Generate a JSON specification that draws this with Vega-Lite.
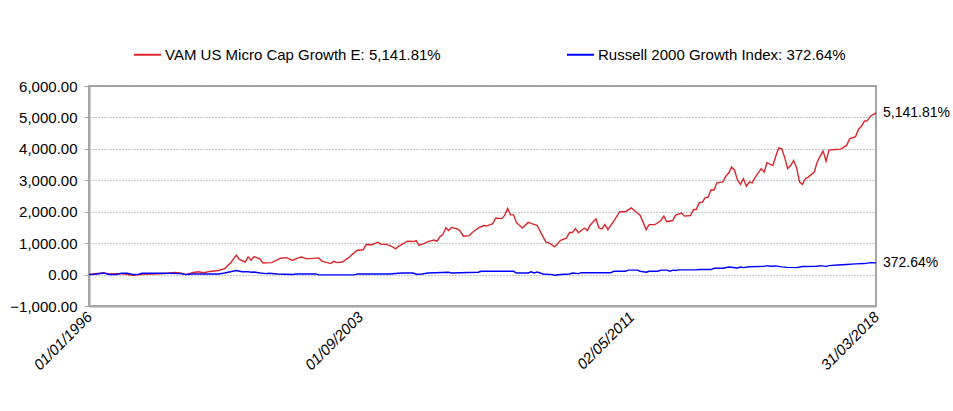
{
  "$schema": "https://vega.github.io/schema/vega-lite/v6.json",
  "width": 787,
  "height": 220,
  "autosize": {"type": "none"},
  "padding": {"left": 89, "top": 86, "right": 77, "bottom": 105},
  "background": "white",
  "config": {"view": {"stroke": "#a6a6a6", "strokeWidth": 2}, "font": "Liberation Sans"},
  "datasets": {
    "perf": [
      {"series": "VAM US Micro Cap Growth E: 5,141.81%", "date": "1996-01-01", "value": 0},
      {"series": "VAM US Micro Cap Growth E: 5,141.81%", "date": "1996-03-01", "value": 30},
      {"series": "VAM US Micro Cap Growth E: 5,141.81%", "date": "1996-06-01", "value": 50},
      {"series": "VAM US Micro Cap Growth E: 5,141.81%", "date": "1996-08-01", "value": 20},
      {"series": "VAM US Micro Cap Growth E: 5,141.81%", "date": "1996-11-01", "value": 30},
      {"series": "VAM US Micro Cap Growth E: 5,141.81%", "date": "1997-01-01", "value": 20},
      {"series": "VAM US Micro Cap Growth E: 5,141.81%", "date": "1997-04-01", "value": -20},
      {"series": "VAM US Micro Cap Growth E: 5,141.81%", "date": "1997-07-01", "value": 10},
      {"series": "VAM US Micro Cap Growth E: 5,141.81%", "date": "1997-11-01", "value": 20},
      {"series": "VAM US Micro Cap Growth E: 5,141.81%", "date": "1998-04-01", "value": 40},
      {"series": "VAM US Micro Cap Growth E: 5,141.81%", "date": "1998-06-01", "value": 70},
      {"series": "VAM US Micro Cap Growth E: 5,141.81%", "date": "1998-08-01", "value": 50},
      {"series": "VAM US Micro Cap Growth E: 5,141.81%", "date": "1998-10-01", "value": 0},
      {"series": "VAM US Micro Cap Growth E: 5,141.81%", "date": "1998-12-01", "value": 60},
      {"series": "VAM US Micro Cap Growth E: 5,141.81%", "date": "1999-02-01", "value": 90},
      {"series": "VAM US Micro Cap Growth E: 5,141.81%", "date": "1999-04-01", "value": 60},
      {"series": "VAM US Micro Cap Growth E: 5,141.81%", "date": "1999-06-01", "value": 100},
      {"series": "VAM US Micro Cap Growth E: 5,141.81%", "date": "1999-09-01", "value": 130},
      {"series": "VAM US Micro Cap Growth E: 5,141.81%", "date": "1999-11-01", "value": 190},
      {"series": "VAM US Micro Cap Growth E: 5,141.81%", "date": "2000-01-01", "value": 370},
      {"series": "VAM US Micro Cap Growth E: 5,141.81%", "date": "2000-03-01", "value": 620},
      {"series": "VAM US Micro Cap Growth E: 5,141.81%", "date": "2000-04-01", "value": 480},
      {"series": "VAM US Micro Cap Growth E: 5,141.81%", "date": "2000-06-01", "value": 400},
      {"series": "VAM US Micro Cap Growth E: 5,141.81%", "date": "2000-07-01", "value": 560},
      {"series": "VAM US Micro Cap Growth E: 5,141.81%", "date": "2000-08-01", "value": 460},
      {"series": "VAM US Micro Cap Growth E: 5,141.81%", "date": "2000-09-01", "value": 570},
      {"series": "VAM US Micro Cap Growth E: 5,141.81%", "date": "2000-11-01", "value": 490},
      {"series": "VAM US Micro Cap Growth E: 5,141.81%", "date": "2000-12-01", "value": 370},
      {"series": "VAM US Micro Cap Growth E: 5,141.81%", "date": "2001-03-01", "value": 380},
      {"series": "VAM US Micro Cap Growth E: 5,141.81%", "date": "2001-06-01", "value": 520},
      {"series": "VAM US Micro Cap Growth E: 5,141.81%", "date": "2001-08-01", "value": 540},
      {"series": "VAM US Micro Cap Growth E: 5,141.81%", "date": "2001-10-01", "value": 450},
      {"series": "VAM US Micro Cap Growth E: 5,141.81%", "date": "2001-12-01", "value": 530},
      {"series": "VAM US Micro Cap Growth E: 5,141.81%", "date": "2002-01-01", "value": 560},
      {"series": "VAM US Micro Cap Growth E: 5,141.81%", "date": "2002-03-01", "value": 500},
      {"series": "VAM US Micro Cap Growth E: 5,141.81%", "date": "2002-07-01", "value": 530},
      {"series": "VAM US Micro Cap Growth E: 5,141.81%", "date": "2002-08-01", "value": 430},
      {"series": "VAM US Micro Cap Growth E: 5,141.81%", "date": "2002-11-01", "value": 350},
      {"series": "VAM US Micro Cap Growth E: 5,141.81%", "date": "2002-12-01", "value": 420},
      {"series": "VAM US Micro Cap Growth E: 5,141.81%", "date": "2003-01-01", "value": 380},
      {"series": "VAM US Micro Cap Growth E: 5,141.81%", "date": "2003-03-01", "value": 400},
      {"series": "VAM US Micro Cap Growth E: 5,141.81%", "date": "2003-05-01", "value": 530},
      {"series": "VAM US Micro Cap Growth E: 5,141.81%", "date": "2003-08-01", "value": 775},
      {"series": "VAM US Micro Cap Growth E: 5,141.81%", "date": "2003-10-01", "value": 790},
      {"series": "VAM US Micro Cap Growth E: 5,141.81%", "date": "2003-11-01", "value": 955},
      {"series": "VAM US Micro Cap Growth E: 5,141.81%", "date": "2004-01-01", "value": 950},
      {"series": "VAM US Micro Cap Growth E: 5,141.81%", "date": "2004-03-01", "value": 1030},
      {"series": "VAM US Micro Cap Growth E: 5,141.81%", "date": "2004-04-01", "value": 960},
      {"series": "VAM US Micro Cap Growth E: 5,141.81%", "date": "2004-06-01", "value": 960},
      {"series": "VAM US Micro Cap Growth E: 5,141.81%", "date": "2004-08-01", "value": 880},
      {"series": "VAM US Micro Cap Growth E: 5,141.81%", "date": "2004-09-01", "value": 820},
      {"series": "VAM US Micro Cap Growth E: 5,141.81%", "date": "2004-10-01", "value": 900},
      {"series": "VAM US Micro Cap Growth E: 5,141.81%", "date": "2005-01-01", "value": 1060},
      {"series": "VAM US Micro Cap Growth E: 5,141.81%", "date": "2005-03-01", "value": 1050},
      {"series": "VAM US Micro Cap Growth E: 5,141.81%", "date": "2005-04-01", "value": 1080},
      {"series": "VAM US Micro Cap Growth E: 5,141.81%", "date": "2005-05-01", "value": 930},
      {"series": "VAM US Micro Cap Growth E: 5,141.81%", "date": "2005-07-01", "value": 1000},
      {"series": "VAM US Micro Cap Growth E: 5,141.81%", "date": "2005-08-01", "value": 1050},
      {"series": "VAM US Micro Cap Growth E: 5,141.81%", "date": "2005-10-01", "value": 1100},
      {"series": "VAM US Micro Cap Growth E: 5,141.81%", "date": "2005-11-01", "value": 1060},
      {"series": "VAM US Micro Cap Growth E: 5,141.81%", "date": "2005-12-01", "value": 1200},
      {"series": "VAM US Micro Cap Growth E: 5,141.81%", "date": "2006-01-01", "value": 1270},
      {"series": "VAM US Micro Cap Growth E: 5,141.81%", "date": "2006-02-01", "value": 1490},
      {"series": "VAM US Micro Cap Growth E: 5,141.81%", "date": "2006-03-01", "value": 1400},
      {"series": "VAM US Micro Cap Growth E: 5,141.81%", "date": "2006-04-01", "value": 1500},
      {"series": "VAM US Micro Cap Growth E: 5,141.81%", "date": "2006-06-01", "value": 1450},
      {"series": "VAM US Micro Cap Growth E: 5,141.81%", "date": "2006-07-01", "value": 1380},
      {"series": "VAM US Micro Cap Growth E: 5,141.81%", "date": "2006-08-01", "value": 1220},
      {"series": "VAM US Micro Cap Growth E: 5,141.81%", "date": "2006-10-01", "value": 1240},
      {"series": "VAM US Micro Cap Growth E: 5,141.81%", "date": "2006-11-01", "value": 1340},
      {"series": "VAM US Micro Cap Growth E: 5,141.81%", "date": "2007-01-01", "value": 1480},
      {"series": "VAM US Micro Cap Growth E: 5,141.81%", "date": "2007-03-01", "value": 1560},
      {"series": "VAM US Micro Cap Growth E: 5,141.81%", "date": "2007-04-01", "value": 1550},
      {"series": "VAM US Micro Cap Growth E: 5,141.81%", "date": "2007-06-01", "value": 1620},
      {"series": "VAM US Micro Cap Growth E: 5,141.81%", "date": "2007-07-01", "value": 1800},
      {"series": "VAM US Micro Cap Growth E: 5,141.81%", "date": "2007-09-01", "value": 1780},
      {"series": "VAM US Micro Cap Growth E: 5,141.81%", "date": "2007-10-01", "value": 1880},
      {"series": "VAM US Micro Cap Growth E: 5,141.81%", "date": "2007-11-01", "value": 2100},
      {"series": "VAM US Micro Cap Growth E: 5,141.81%", "date": "2007-12-01", "value": 1900},
      {"series": "VAM US Micro Cap Growth E: 5,141.81%", "date": "2008-01-01", "value": 1900},
      {"series": "VAM US Micro Cap Growth E: 5,141.81%", "date": "2008-02-01", "value": 1650},
      {"series": "VAM US Micro Cap Growth E: 5,141.81%", "date": "2008-04-01", "value": 1480},
      {"series": "VAM US Micro Cap Growth E: 5,141.81%", "date": "2008-06-01", "value": 1660},
      {"series": "VAM US Micro Cap Growth E: 5,141.81%", "date": "2008-07-01", "value": 1630},
      {"series": "VAM US Micro Cap Growth E: 5,141.81%", "date": "2008-09-01", "value": 1560},
      {"series": "VAM US Micro Cap Growth E: 5,141.81%", "date": "2008-11-01", "value": 1200},
      {"series": "VAM US Micro Cap Growth E: 5,141.81%", "date": "2008-12-01", "value": 1030},
      {"series": "VAM US Micro Cap Growth E: 5,141.81%", "date": "2009-01-01", "value": 1010},
      {"series": "VAM US Micro Cap Growth E: 5,141.81%", "date": "2009-03-01", "value": 880},
      {"series": "VAM US Micro Cap Growth E: 5,141.81%", "date": "2009-05-01", "value": 1090},
      {"series": "VAM US Micro Cap Growth E: 5,141.81%", "date": "2009-07-01", "value": 1160},
      {"series": "VAM US Micro Cap Growth E: 5,141.81%", "date": "2009-08-01", "value": 1340},
      {"series": "VAM US Micro Cap Growth E: 5,141.81%", "date": "2009-09-01", "value": 1340},
      {"series": "VAM US Micro Cap Growth E: 5,141.81%", "date": "2009-10-01", "value": 1460},
      {"series": "VAM US Micro Cap Growth E: 5,141.81%", "date": "2009-11-01", "value": 1330},
      {"series": "VAM US Micro Cap Growth E: 5,141.81%", "date": "2010-01-01", "value": 1480},
      {"series": "VAM US Micro Cap Growth E: 5,141.81%", "date": "2010-02-01", "value": 1400},
      {"series": "VAM US Micro Cap Growth E: 5,141.81%", "date": "2010-03-01", "value": 1570},
      {"series": "VAM US Micro Cap Growth E: 5,141.81%", "date": "2010-05-01", "value": 1770},
      {"series": "VAM US Micro Cap Growth E: 5,141.81%", "date": "2010-06-01", "value": 1480},
      {"series": "VAM US Micro Cap Growth E: 5,141.81%", "date": "2010-07-01", "value": 1450},
      {"series": "VAM US Micro Cap Growth E: 5,141.81%", "date": "2010-08-01", "value": 1590},
      {"series": "VAM US Micro Cap Growth E: 5,141.81%", "date": "2010-09-01", "value": 1430},
      {"series": "VAM US Micro Cap Growth E: 5,141.81%", "date": "2010-11-01", "value": 1700},
      {"series": "VAM US Micro Cap Growth E: 5,141.81%", "date": "2011-01-01", "value": 2000},
      {"series": "VAM US Micro Cap Growth E: 5,141.81%", "date": "2011-03-01", "value": 2000},
      {"series": "VAM US Micro Cap Growth E: 5,141.81%", "date": "2011-05-01", "value": 2120},
      {"series": "VAM US Micro Cap Growth E: 5,141.81%", "date": "2011-07-01", "value": 1960},
      {"series": "VAM US Micro Cap Growth E: 5,141.81%", "date": "2011-08-01", "value": 1880},
      {"series": "VAM US Micro Cap Growth E: 5,141.81%", "date": "2011-10-01", "value": 1430},
      {"series": "VAM US Micro Cap Growth E: 5,141.81%", "date": "2011-11-01", "value": 1590},
      {"series": "VAM US Micro Cap Growth E: 5,141.81%", "date": "2012-01-01", "value": 1590},
      {"series": "VAM US Micro Cap Growth E: 5,141.81%", "date": "2012-03-01", "value": 1720},
      {"series": "VAM US Micro Cap Growth E: 5,141.81%", "date": "2012-04-01", "value": 1860},
      {"series": "VAM US Micro Cap Growth E: 5,141.81%", "date": "2012-05-01", "value": 1680},
      {"series": "VAM US Micro Cap Growth E: 5,141.81%", "date": "2012-07-01", "value": 1720},
      {"series": "VAM US Micro Cap Growth E: 5,141.81%", "date": "2012-08-01", "value": 1890},
      {"series": "VAM US Micro Cap Growth E: 5,141.81%", "date": "2012-10-01", "value": 1960},
      {"series": "VAM US Micro Cap Growth E: 5,141.81%", "date": "2012-11-01", "value": 1860},
      {"series": "VAM US Micro Cap Growth E: 5,141.81%", "date": "2013-01-01", "value": 1880},
      {"series": "VAM US Micro Cap Growth E: 5,141.81%", "date": "2013-02-01", "value": 2070},
      {"series": "VAM US Micro Cap Growth E: 5,141.81%", "date": "2013-03-01", "value": 2070},
      {"series": "VAM US Micro Cap Growth E: 5,141.81%", "date": "2013-04-01", "value": 2280},
      {"series": "VAM US Micro Cap Growth E: 5,141.81%", "date": "2013-05-01", "value": 2300},
      {"series": "VAM US Micro Cap Growth E: 5,141.81%", "date": "2013-06-01", "value": 2440},
      {"series": "VAM US Micro Cap Growth E: 5,141.81%", "date": "2013-07-01", "value": 2460},
      {"series": "VAM US Micro Cap Growth E: 5,141.81%", "date": "2013-08-01", "value": 2700},
      {"series": "VAM US Micro Cap Growth E: 5,141.81%", "date": "2013-09-01", "value": 2690},
      {"series": "VAM US Micro Cap Growth E: 5,141.81%", "date": "2013-10-01", "value": 2920},
      {"series": "VAM US Micro Cap Growth E: 5,141.81%", "date": "2013-12-01", "value": 2950},
      {"series": "VAM US Micro Cap Growth E: 5,141.81%", "date": "2014-01-01", "value": 3130},
      {"series": "VAM US Micro Cap Growth E: 5,141.81%", "date": "2014-02-01", "value": 3240},
      {"series": "VAM US Micro Cap Growth E: 5,141.81%", "date": "2014-03-01", "value": 3420},
      {"series": "VAM US Micro Cap Growth E: 5,141.81%", "date": "2014-04-01", "value": 3320},
      {"series": "VAM US Micro Cap Growth E: 5,141.81%", "date": "2014-05-01", "value": 3000},
      {"series": "VAM US Micro Cap Growth E: 5,141.81%", "date": "2014-06-01", "value": 2870},
      {"series": "VAM US Micro Cap Growth E: 5,141.81%", "date": "2014-07-01", "value": 3050},
      {"series": "VAM US Micro Cap Growth E: 5,141.81%", "date": "2014-08-01", "value": 2810},
      {"series": "VAM US Micro Cap Growth E: 5,141.81%", "date": "2014-09-01", "value": 2950},
      {"series": "VAM US Micro Cap Growth E: 5,141.81%", "date": "2014-10-01", "value": 2920},
      {"series": "VAM US Micro Cap Growth E: 5,141.81%", "date": "2014-11-01", "value": 3100},
      {"series": "VAM US Micro Cap Growth E: 5,141.81%", "date": "2015-01-01", "value": 3370},
      {"series": "VAM US Micro Cap Growth E: 5,141.81%", "date": "2015-02-01", "value": 3260},
      {"series": "VAM US Micro Cap Growth E: 5,141.81%", "date": "2015-03-01", "value": 3560},
      {"series": "VAM US Micro Cap Growth E: 5,141.81%", "date": "2015-05-01", "value": 3470},
      {"series": "VAM US Micro Cap Growth E: 5,141.81%", "date": "2015-06-01", "value": 3770},
      {"series": "VAM US Micro Cap Growth E: 5,141.81%", "date": "2015-07-01", "value": 4030},
      {"series": "VAM US Micro Cap Growth E: 5,141.81%", "date": "2015-08-01", "value": 4000},
      {"series": "VAM US Micro Cap Growth E: 5,141.81%", "date": "2015-09-01", "value": 3720},
      {"series": "VAM US Micro Cap Growth E: 5,141.81%", "date": "2015-10-01", "value": 3370},
      {"series": "VAM US Micro Cap Growth E: 5,141.81%", "date": "2015-11-01", "value": 3470},
      {"series": "VAM US Micro Cap Growth E: 5,141.81%", "date": "2015-12-01", "value": 3630},
      {"series": "VAM US Micro Cap Growth E: 5,141.81%", "date": "2016-01-01", "value": 3400},
      {"series": "VAM US Micro Cap Growth E: 5,141.81%", "date": "2016-02-01", "value": 2940},
      {"series": "VAM US Micro Cap Growth E: 5,141.81%", "date": "2016-03-01", "value": 2870},
      {"series": "VAM US Micro Cap Growth E: 5,141.81%", "date": "2016-04-01", "value": 3050},
      {"series": "VAM US Micro Cap Growth E: 5,141.81%", "date": "2016-05-01", "value": 3100},
      {"series": "VAM US Micro Cap Growth E: 5,141.81%", "date": "2016-07-01", "value": 3260},
      {"series": "VAM US Micro Cap Growth E: 5,141.81%", "date": "2016-08-01", "value": 3580},
      {"series": "VAM US Micro Cap Growth E: 5,141.81%", "date": "2016-09-01", "value": 3770},
      {"series": "VAM US Micro Cap Growth E: 5,141.81%", "date": "2016-10-01", "value": 3930},
      {"series": "VAM US Micro Cap Growth E: 5,141.81%", "date": "2016-11-01", "value": 3610},
      {"series": "VAM US Micro Cap Growth E: 5,141.81%", "date": "2016-12-01", "value": 3960},
      {"series": "VAM US Micro Cap Growth E: 5,141.81%", "date": "2017-02-01", "value": 3980},
      {"series": "VAM US Micro Cap Growth E: 5,141.81%", "date": "2017-04-01", "value": 3990},
      {"series": "VAM US Micro Cap Growth E: 5,141.81%", "date": "2017-06-01", "value": 4110},
      {"series": "VAM US Micro Cap Growth E: 5,141.81%", "date": "2017-07-01", "value": 4320},
      {"series": "VAM US Micro Cap Growth E: 5,141.81%", "date": "2017-09-01", "value": 4390},
      {"series": "VAM US Micro Cap Growth E: 5,141.81%", "date": "2017-10-01", "value": 4620},
      {"series": "VAM US Micro Cap Growth E: 5,141.81%", "date": "2017-11-01", "value": 4720},
      {"series": "VAM US Micro Cap Growth E: 5,141.81%", "date": "2017-12-01", "value": 4880},
      {"series": "VAM US Micro Cap Growth E: 5,141.81%", "date": "2018-01-01", "value": 4900},
      {"series": "VAM US Micro Cap Growth E: 5,141.81%", "date": "2018-02-01", "value": 5040},
      {"series": "VAM US Micro Cap Growth E: 5,141.81%", "date": "2018-03-31", "value": 5141.81},
      {"series": "Russell 2000 Growth Index: 372.64%", "date": "1996-01-01", "value": 0},
      {"series": "Russell 2000 Growth Index: 372.64%", "date": "1996-03-01", "value": 10},
      {"series": "Russell 2000 Growth Index: 372.64%", "date": "1996-06-01", "value": 50},
      {"series": "Russell 2000 Growth Index: 372.64%", "date": "1996-08-01", "value": 0},
      {"series": "Russell 2000 Growth Index: 372.64%", "date": "1996-10-01", "value": 0},
      {"series": "Russell 2000 Growth Index: 372.64%", "date": "1996-12-01", "value": 40},
      {"series": "Russell 2000 Growth Index: 372.64%", "date": "1997-02-01", "value": 40},
      {"series": "Russell 2000 Growth Index: 372.64%", "date": "1997-04-01", "value": 0},
      {"series": "Russell 2000 Growth Index: 372.64%", "date": "1997-06-01", "value": 10},
      {"series": "Russell 2000 Growth Index: 372.64%", "date": "1997-07-01", "value": 40},
      {"series": "Russell 2000 Growth Index: 372.64%", "date": "1998-04-01", "value": 40},
      {"series": "Russell 2000 Growth Index: 372.64%", "date": "1998-08-01", "value": 30},
      {"series": "Russell 2000 Growth Index: 372.64%", "date": "1998-10-01", "value": 0},
      {"series": "Russell 2000 Growth Index: 372.64%", "date": "1998-12-01", "value": 20},
      {"series": "Russell 2000 Growth Index: 372.64%", "date": "1999-09-01", "value": 20},
      {"series": "Russell 2000 Growth Index: 372.64%", "date": "1999-11-01", "value": 50},
      {"series": "Russell 2000 Growth Index: 372.64%", "date": "2000-01-01", "value": 90},
      {"series": "Russell 2000 Growth Index: 372.64%", "date": "2000-03-01", "value": 130},
      {"series": "Russell 2000 Growth Index: 372.64%", "date": "2000-05-01", "value": 90},
      {"series": "Russell 2000 Growth Index: 372.64%", "date": "2000-07-01", "value": 95},
      {"series": "Russell 2000 Growth Index: 372.64%", "date": "2000-08-01", "value": 75},
      {"series": "Russell 2000 Growth Index: 372.64%", "date": "2000-09-01", "value": 80},
      {"series": "Russell 2000 Growth Index: 372.64%", "date": "2000-11-01", "value": 50},
      {"series": "Russell 2000 Growth Index: 372.64%", "date": "2001-01-01", "value": 30},
      {"series": "Russell 2000 Growth Index: 372.64%", "date": "2001-02-01", "value": 40},
      {"series": "Russell 2000 Growth Index: 372.64%", "date": "2001-05-01", "value": 20},
      {"series": "Russell 2000 Growth Index: 372.64%", "date": "2001-10-01", "value": 0},
      {"series": "Russell 2000 Growth Index: 372.64%", "date": "2001-11-01", "value": 20},
      {"series": "Russell 2000 Growth Index: 372.64%", "date": "2002-06-01", "value": 20},
      {"series": "Russell 2000 Growth Index: 372.64%", "date": "2002-07-01", "value": -10},
      {"series": "Russell 2000 Growth Index: 372.64%", "date": "2003-07-01", "value": -10},
      {"series": "Russell 2000 Growth Index: 372.64%", "date": "2003-08-01", "value": 20},
      {"series": "Russell 2000 Growth Index: 372.64%", "date": "2004-07-01", "value": 20},
      {"series": "Russell 2000 Growth Index: 372.64%", "date": "2004-11-01", "value": 50},
      {"series": "Russell 2000 Growth Index: 372.64%", "date": "2005-03-01", "value": 50},
      {"series": "Russell 2000 Growth Index: 372.64%", "date": "2005-04-01", "value": 10},
      {"series": "Russell 2000 Growth Index: 372.64%", "date": "2005-06-01", "value": 20},
      {"series": "Russell 2000 Growth Index: 372.64%", "date": "2005-08-01", "value": 50},
      {"series": "Russell 2000 Growth Index: 372.64%", "date": "2006-03-01", "value": 75},
      {"series": "Russell 2000 Growth Index: 372.64%", "date": "2006-04-01", "value": 50},
      {"series": "Russell 2000 Growth Index: 372.64%", "date": "2007-01-01", "value": 75},
      {"series": "Russell 2000 Growth Index: 372.64%", "date": "2007-02-01", "value": 105},
      {"series": "Russell 2000 Growth Index: 372.64%", "date": "2008-01-01", "value": 105},
      {"series": "Russell 2000 Growth Index: 372.64%", "date": "2008-02-01", "value": 50},
      {"series": "Russell 2000 Growth Index: 372.64%", "date": "2008-06-01", "value": 50},
      {"series": "Russell 2000 Growth Index: 372.64%", "date": "2008-07-01", "value": 90},
      {"series": "Russell 2000 Growth Index: 372.64%", "date": "2008-08-01", "value": 50},
      {"series": "Russell 2000 Growth Index: 372.64%", "date": "2008-09-01", "value": 80},
      {"series": "Russell 2000 Growth Index: 372.64%", "date": "2008-11-01", "value": 20},
      {"series": "Russell 2000 Growth Index: 372.64%", "date": "2009-02-01", "value": 0},
      {"series": "Russell 2000 Growth Index: 372.64%", "date": "2009-03-01", "value": -20},
      {"series": "Russell 2000 Growth Index: 372.64%", "date": "2009-05-01", "value": 0},
      {"series": "Russell 2000 Growth Index: 372.64%", "date": "2009-08-01", "value": 20},
      {"series": "Russell 2000 Growth Index: 372.64%", "date": "2009-09-01", "value": 50},
      {"series": "Russell 2000 Growth Index: 372.64%", "date": "2009-11-01", "value": 30},
      {"series": "Russell 2000 Growth Index: 372.64%", "date": "2009-12-01", "value": 60},
      {"series": "Russell 2000 Growth Index: 372.64%", "date": "2010-10-01", "value": 60},
      {"series": "Russell 2000 Growth Index: 372.64%", "date": "2010-11-01", "value": 105},
      {"series": "Russell 2000 Growth Index: 372.64%", "date": "2011-03-01", "value": 105},
      {"series": "Russell 2000 Growth Index: 372.64%", "date": "2011-04-01", "value": 140},
      {"series": "Russell 2000 Growth Index: 372.64%", "date": "2011-07-01", "value": 140},
      {"series": "Russell 2000 Growth Index: 372.64%", "date": "2011-08-01", "value": 105},
      {"series": "Russell 2000 Growth Index: 372.64%", "date": "2011-10-01", "value": 75},
      {"series": "Russell 2000 Growth Index: 372.64%", "date": "2011-11-01", "value": 105},
      {"series": "Russell 2000 Growth Index: 372.64%", "date": "2012-02-01", "value": 105},
      {"series": "Russell 2000 Growth Index: 372.64%", "date": "2012-03-01", "value": 140},
      {"series": "Russell 2000 Growth Index: 372.64%", "date": "2012-05-01", "value": 140},
      {"series": "Russell 2000 Growth Index: 372.64%", "date": "2012-06-01", "value": 105},
      {"series": "Russell 2000 Growth Index: 372.64%", "date": "2012-07-01", "value": 140},
      {"series": "Russell 2000 Growth Index: 372.64%", "date": "2012-08-01", "value": 130},
      {"series": "Russell 2000 Growth Index: 372.64%", "date": "2012-09-01", "value": 150},
      {"series": "Russell 2000 Growth Index: 372.64%", "date": "2013-03-01", "value": 150},
      {"series": "Russell 2000 Growth Index: 372.64%", "date": "2013-04-01", "value": 160},
      {"series": "Russell 2000 Growth Index: 372.64%", "date": "2013-08-01", "value": 160},
      {"series": "Russell 2000 Growth Index: 372.64%", "date": "2013-09-01", "value": 200},
      {"series": "Russell 2000 Growth Index: 372.64%", "date": "2013-12-01", "value": 200},
      {"series": "Russell 2000 Growth Index: 372.64%", "date": "2014-02-01", "value": 240},
      {"series": "Russell 2000 Growth Index: 372.64%", "date": "2014-05-01", "value": 210},
      {"series": "Russell 2000 Growth Index: 372.64%", "date": "2014-06-01", "value": 240},
      {"series": "Russell 2000 Growth Index: 372.64%", "date": "2014-07-01", "value": 220},
      {"series": "Russell 2000 Growth Index: 372.64%", "date": "2014-09-01", "value": 250},
      {"series": "Russell 2000 Growth Index: 372.64%", "date": "2015-02-01", "value": 260},
      {"series": "Russell 2000 Growth Index: 372.64%", "date": "2015-03-01", "value": 285},
      {"series": "Russell 2000 Growth Index: 372.64%", "date": "2015-04-01", "value": 265},
      {"series": "Russell 2000 Growth Index: 372.64%", "date": "2015-06-01", "value": 275},
      {"series": "Russell 2000 Growth Index: 372.64%", "date": "2015-08-01", "value": 245},
      {"series": "Russell 2000 Growth Index: 372.64%", "date": "2015-10-01", "value": 230},
      {"series": "Russell 2000 Growth Index: 372.64%", "date": "2016-01-01", "value": 220},
      {"series": "Russell 2000 Growth Index: 372.64%", "date": "2016-03-01", "value": 255},
      {"series": "Russell 2000 Growth Index: 372.64%", "date": "2016-08-01", "value": 265},
      {"series": "Russell 2000 Growth Index: 372.64%", "date": "2016-09-01", "value": 285},
      {"series": "Russell 2000 Growth Index: 372.64%", "date": "2016-11-01", "value": 260},
      {"series": "Russell 2000 Growth Index: 372.64%", "date": "2016-12-01", "value": 285},
      {"series": "Russell 2000 Growth Index: 372.64%", "date": "2017-03-01", "value": 305},
      {"series": "Russell 2000 Growth Index: 372.64%", "date": "2017-06-01", "value": 320},
      {"series": "Russell 2000 Growth Index: 372.64%", "date": "2017-09-01", "value": 340},
      {"series": "Russell 2000 Growth Index: 372.64%", "date": "2017-12-01", "value": 350},
      {"series": "Russell 2000 Growth Index: 372.64%", "date": "2018-02-01", "value": 380},
      {"series": "Russell 2000 Growth Index: 372.64%", "date": "2018-03-31", "value": 372.64}
    ],
    "ends": [
      {"date": "2018-03-31", "value": 5141.81, "label": "5,141.81%"},
      {"date": "2018-03-31", "value": 372.64, "label": "372.64%"}
    ]
  },
  "layer": [
    {
      "data": {"name": "perf"},
      "mark": {"type": "line", "strokeWidth": 1.4},
      "encoding": {
        "x": {
          "field": "date",
          "type": "temporal",
          "scale": {
            "type": "utc",
            "domain": [
              {"year": 1996, "month": 1, "date": 1, "utc": true},
              {"year": 2018, "month": 3, "date": 31, "utc": true}
            ]
          },
          "axis": {
            "title": null,
            "grid": false,
            "values": [
              {"year": 1996, "month": 1, "date": 1, "utc": true},
              {"year": 2003, "month": 9, "date": 1, "utc": true},
              {"year": 2011, "month": 5, "date": 2, "utc": true},
              {"year": 2018, "month": 3, "date": 31, "utc": true}
            ],
            "tickCount": 20,
            "format": "%d/%m/%Y",
            "labelAngle": -45,
            "labelAlign": "right",
            "labelBaseline": "middle",
            "labelFontSize": 15,
            "labelFontStyle": "italic",
            "labelFont": "Liberation Sans",
            "labelColor": "#000000",
            "labelPadding": 8,
            "labelOverlap": false,
            "labelFlush": false,
            "domainColor": "#a6a6a6",
            "domainWidth": 2,
            "tickSize": 0
          }
        },
        "y": {
          "field": "value",
          "type": "quantitative",
          "scale": {"domain": [-1000, 6000], "nice": false},
          "axis": {
            "title": null,
            "values": [-1000, 0, 1000, 2000, 3000, 4000, 5000, 6000],
            "tickCount": 20,
            "format": ",.2f",
            "labelOverlap": false,
            "labelFlush": false,
            "labelFontSize": 15,
            "labelFont": "Liberation Sans",
            "labelColor": "#000000",
            "labelPadding": 7,
            "tickSize": 5,
            "tickColor": "#a6a6a6",
            "domainColor": "#a6a6a6",
            "domainWidth": 2,
            "grid": true,
            "gridColor": "#8c8c8c",
            "gridDash": [1, 2],
            "gridWidth": 1
          }
        },
        "color": {
          "field": "series",
          "type": "nominal",
          "scale": {
            "domain": ["VAM US Micro Cap Growth E: 5,141.81%", "Russell 2000 Growth Index: 372.64%"],
            "range": ["#d9262c", "#0000ff"]
          },
          "legend": {
            "orient": "none",
            "legendX": 44,
            "legendY": -46,
            "direction": "horizontal",
            "title": null,
            "symbolType": "stroke",
            "symbolSize": 729,
            "symbolStrokeWidth": 2,
            "labelFontSize": 15,
            "labelFont": "Liberation Sans",
            "labelColor": "#000000",
            "labelLimit": 400,
            "labelOffset": 3,
            "columnPadding": 122
          }
        }
      }
    },
    {
      "data": {"name": "ends"},
      "mark": {"type": "text", "align": "left", "baseline": "middle", "dx": 7, "fontSize": 14, "font": "Liberation Sans", "color": "#000000"},
      "encoding": {
        "x": {"field": "date", "type": "temporal"},
        "y": {"field": "value", "type": "quantitative"},
        "text": {"field": "label", "type": "nominal"}
      }
    }
  ]
}
